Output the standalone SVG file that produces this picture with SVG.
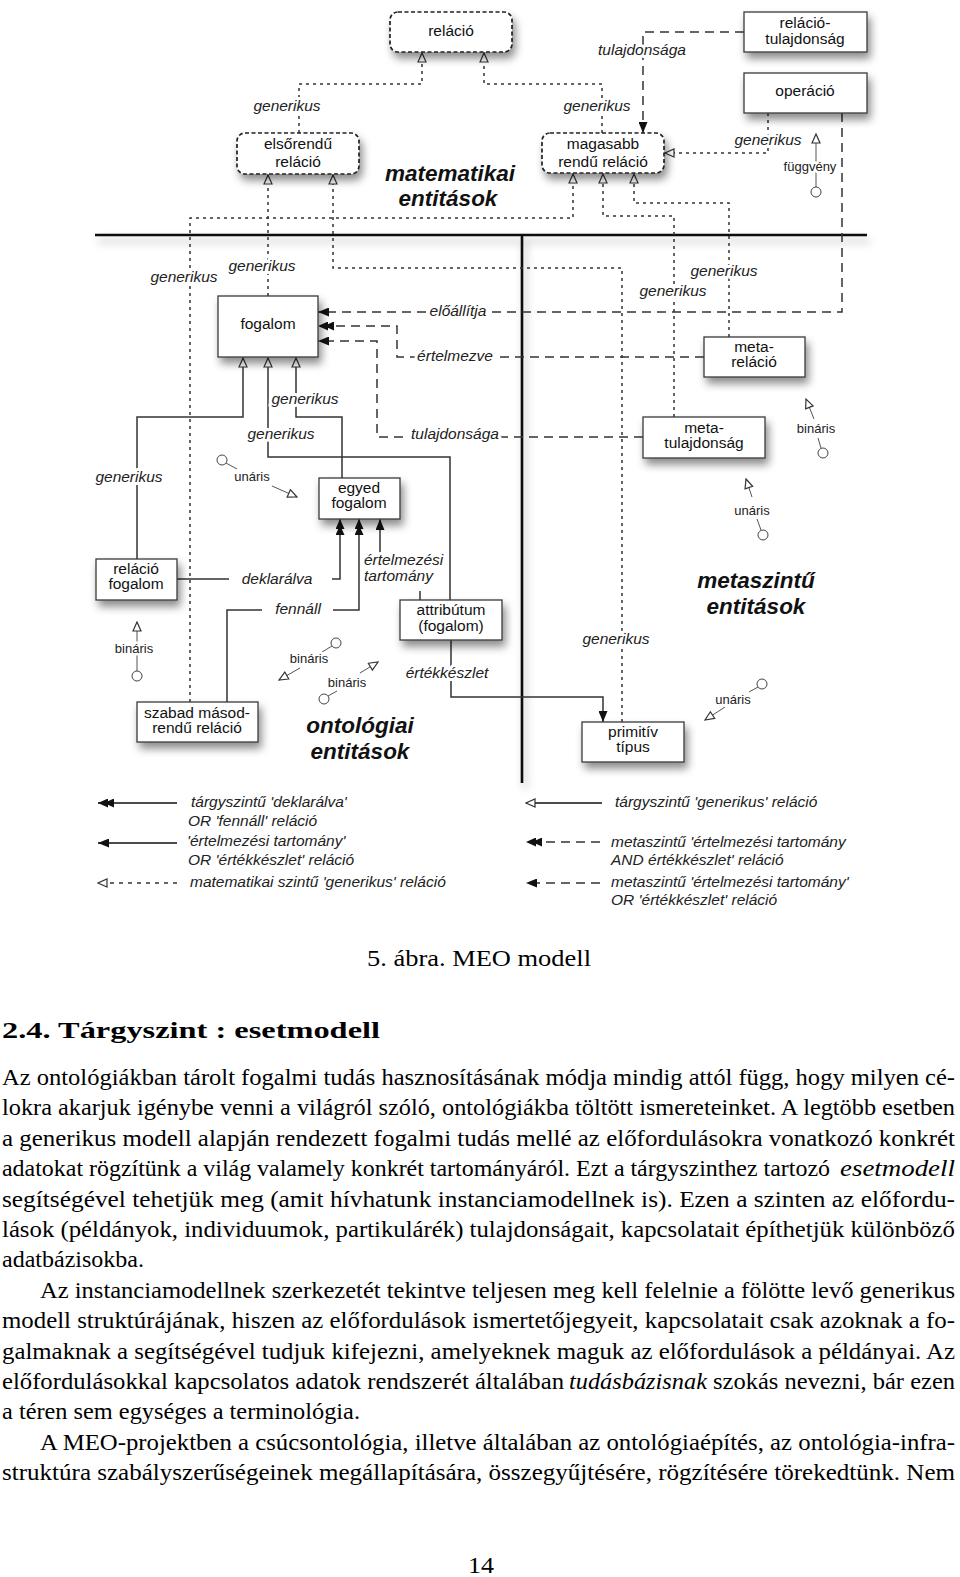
<svg xmlns="http://www.w3.org/2000/svg" width="960" height="1577" viewBox="0 0 960 1577">
<defs>
<style>
.bx{fill:#fff;stroke:#3a3a3a;stroke-width:1.3}
.db{fill:#fff;stroke:#222;stroke-width:1.7;stroke-dasharray:4,2.5}
.t{font-family:"Liberation Sans",Arial,sans-serif;font-size:15.5px;fill:#111;text-anchor:middle}
.lb{font-family:"Liberation Sans",Arial,sans-serif;font-size:15.5px;font-style:italic;fill:#222;text-anchor:middle;stroke:#fff;stroke-width:6;stroke-linejoin:round;paint-order:stroke}
.ls{text-anchor:start}
.sm{font-family:"Liberation Sans",Arial,sans-serif;font-size:13px;fill:#222;text-anchor:middle;stroke:#fff;stroke-width:5;stroke-linejoin:round;paint-order:stroke}
.big{font-family:"Liberation Sans",Arial,sans-serif;font-size:22.5px;font-weight:bold;font-style:italic;fill:#111;text-anchor:middle}
.lg{font-family:"Liberation Sans",Arial,sans-serif;font-size:15.5px;font-style:italic;fill:#222}
.dt{fill:none;stroke:#333;stroke-width:1.5;stroke-dasharray:3,4}
.ds{fill:none;stroke:#333;stroke-width:1.5;stroke-dasharray:9,6}
.so{fill:none;stroke:#333;stroke-width:1.5}
.th{fill:none;stroke:#555;stroke-width:1}
.ci{fill:#fff;stroke:#444;stroke-width:1}
.hv{fill:none;stroke:#111;stroke-width:2.6}
.bd{font-family:"Liberation Serif","Times New Roman",serif;font-size:24px;fill:#000}
.it{font-style:italic}
</style>
<filter id="sh" x="-20%" y="-20%" width="150%" height="180%"><feDropShadow dx="3" dy="6" stdDeviation="4.5" flood-color="#000" flood-opacity="0.45"/></filter>
<filter id="shl" filterUnits="userSpaceOnUse" x="0" y="200" width="960" height="620"><feDropShadow dx="3" dy="6" stdDeviation="4" flood-color="#000" flood-opacity="0.3"/></filter>
<marker id="ho" markerUnits="userSpaceOnUse" viewBox="-1 -1 11 10" markerWidth="11" markerHeight="10" refX="9" refY="4" orient="auto"><path d="M0,0 L9,4 L0,8 z" fill="#fff" stroke="#333" stroke-width="1.2"/></marker>
<marker id="fa" markerUnits="userSpaceOnUse" viewBox="0 0 11 9" markerWidth="11" markerHeight="9" refX="11" refY="4.5" orient="auto"><path d="M0,0 L11,4.5 L0,9 z" fill="#111"/></marker>
<marker id="f2" markerUnits="userSpaceOnUse" viewBox="0 0 16 9" markerWidth="16" markerHeight="9" refX="16" refY="4.5" orient="auto"><path d="M0,0 L10,4.5 L0,9 z M6,0 L16,4.5 L6,9 z" fill="#111"/></marker>
</defs>
<rect x="0" y="0" width="960" height="1577" fill="#fff"/>

<g id="frame" filter="url(#shl)">
<path class="hv" d="M95,235 H867"/>
<path class="hv" d="M522,235 V783"/>
</g>

<g id="connectors">
<path class="dt" d="M299,133 V84 H422 V53" marker-end="url(#ho)"/>
<path class="dt" d="M602,133 V84 H484 V53" marker-end="url(#ho)"/>
<path class="dt" d="M190,702 V218 H573 V174" marker-end="url(#ho)"/>
<path class="dt" d="M268,296 V175" marker-end="url(#ho)"/>
<path class="dt" d="M622,722 V268 H333 V175" marker-end="url(#ho)"/>
<path class="dt" d="M674,417 V216 H603 V174" marker-end="url(#ho)"/>
<path class="dt" d="M729,337 V203 H634 V174" marker-end="url(#ho)"/>
<path class="dt" d="M768,113 V153 H665" marker-end="url(#ho)"/>
<path class="so" d="M137,559 V417 H243 V358" marker-end="url(#ho)"/>
<path class="so" d="M450,600 V457 H268 V358" marker-end="url(#ho)"/>
<path class="so" d="M342,478 V417 H296 V358" marker-end="url(#ho)"/>
<path class="ds" d="M744,32 H643 V133" marker-end="url(#fa)"/>
<path class="ds" d="M842,113 V312 H318" marker-end="url(#fa)"/>
<path class="ds" d="M704,357 H397 V326 H318" marker-end="url(#f2)"/>
<path class="ds" d="M643,437 H377 V341 H318" marker-end="url(#fa)"/>
<path class="so" d="M177,579 H229 M332,579 H340 V519" marker-end="url(#f2)"/>
<path class="so" d="M227,702 V610 H262 M333,610 H359 V519" marker-end="url(#f2)"/>
<path class="so" d="M420,600 V591 M380,553 V519" marker-end="url(#fa)"/>
<path class="so" d="M451,640 V697 H603 V722" marker-end="url(#fa)"/>
<g id="arity">
<path class="th" d="M816,187 V134" marker-end="url(#ho)"/><circle class="ci" cx="816" cy="192" r="5"/>
<path class="th" d="M137,671 V622" marker-end="url(#ho)"/><circle class="ci" cx="137" cy="676" r="5"/>
<circle class="ci" cx="222" cy="460" r="5"/><path class="th" d="M226,463 L237,469"/><path class="th" d="M272,486 L297,497" marker-end="url(#ho)"/>
<circle class="ci" cx="336" cy="643" r="5"/><path class="th" d="M332,646 L322,652"/><path class="th" d="M300,668 L279,680" marker-end="url(#ho)"/>
<circle class="ci" cx="324" cy="699" r="5"/><path class="th" d="M328,696 L337,691"/><path class="th" d="M360,673 L378,662" marker-end="url(#ho)"/>
<path class="th" d="M814,419 L806,399" marker-end="url(#ho)"/><path class="th" d="M818,438 L821,448"/><circle class="ci" cx="823" cy="453" r="5"/>
<path class="th" d="M752,497 L746,479" marker-end="url(#ho)"/><path class="th" d="M757,519 L761,530"/><circle class="ci" cx="763" cy="535" r="5"/>
<circle class="ci" cx="762" cy="684" r="5"/><path class="th" d="M758,687 L749,692"/><path class="th" d="M725,707 L705,720" marker-end="url(#ho)"/>
</g>
<g id="labels">
<text class="lb" x="287" y="111">generikus</text>
<text class="lb" x="597" y="111">generikus</text>
<text class="lb" x="642" y="55">tulajdonsága</text>
<text class="lb" x="768" y="145">generikus</text>
<text class="lb" x="184" y="282">generikus</text>
<text class="lb" x="262" y="271">generikus</text>
<text class="lb" x="724" y="276">generikus</text>
<text class="lb" x="673" y="296">generikus</text>
<text class="lb" x="458" y="316">előállítja</text>
<text class="lb" x="455" y="361">értelmezve</text>
<text class="lb" x="455" y="439">tulajdonsága</text>
<text class="lb" x="305" y="404">generikus</text>
<text class="lb" x="281" y="439">generikus</text>
<text class="lb" x="129" y="482">generikus</text>
<text class="lb" x="277" y="584">deklarálva</text>
<text class="lb" x="298" y="614">fennáll</text>
<text class="lb ls" x="364" y="565">értelmezési</text>
<text class="lb ls" x="364" y="581">tartomány</text>
<text class="lb" x="447" y="678">értékkészlet</text>
<text class="lb" x="616" y="644">generikus</text>
<text class="sm" x="810" y="171">függvény</text>
<text class="sm" x="252" y="481">unáris</text>
<text class="sm" x="134" y="653">bináris</text>
<text class="sm" x="309" y="663">bináris</text>
<text class="sm" x="347" y="687">bináris</text>
<text class="sm" x="816" y="433">bináris</text>
<text class="sm" x="752" y="515">unáris</text>
<text class="sm" x="733" y="704">unáris</text>
</g>
</g>

<g id="n-relacio"><rect class="db" x="390" y="12" width="122" height="40" rx="8" filter="url(#sh)"/><text class="t" x="451" y="36">reláció</text></g>
<g id="n-relacio-tulajdonsag"><rect class="bx" x="744" y="12" width="123" height="40" filter="url(#sh)"/><text class="t" x="805" y="28">reláció-</text><text class="t" x="805" y="44">tulajdonság</text></g>
<g id="n-operacio"><rect class="bx" x="744" y="73" width="123" height="40" filter="url(#sh)"/><text class="t" x="805" y="96">operáció</text></g>
<g id="n-elsorendu"><rect class="db" x="237" y="133" width="122" height="41" rx="8" filter="url(#sh)"/><text class="t" x="298" y="149">elsőrendű</text><text class="t" x="298" y="167">reláció</text></g>
<g id="n-magasabb"><rect class="db" x="542" y="133" width="122" height="40" rx="8" filter="url(#sh)"/><text class="t" x="603" y="149">magasabb</text><text class="t" x="603" y="167">rendű reláció</text></g>
<g id="n-fogalom"><rect class="bx" x="218" y="296" width="100" height="61" filter="url(#sh)"/><text class="t" x="268" y="329">fogalom</text></g>
<g id="n-metarelacio"><rect class="bx" x="704" y="337" width="101" height="40" filter="url(#sh)"/><text class="t" x="754" y="352">meta-</text><text class="t" x="754" y="367">reláció</text></g>
<g id="n-metatulajdonsag"><rect class="bx" x="643" y="417" width="122" height="41" filter="url(#sh)"/><text class="t" x="704" y="433">meta-</text><text class="t" x="704" y="448">tulajdonság</text></g>
<g id="n-egyed"><rect class="bx" x="319" y="478" width="81" height="41" filter="url(#sh)"/><text class="t" x="359" y="493">egyed</text><text class="t" x="359" y="508">fogalom</text></g>
<g id="n-relaciofogalom"><rect class="bx" x="96" y="559" width="81" height="41" filter="url(#sh)"/><text class="t" x="136" y="574">reláció</text><text class="t" x="136" y="589">fogalom</text></g>
<g id="n-attributum"><rect class="bx" x="400" y="600" width="102" height="40" filter="url(#sh)"/><text class="t" x="451" y="615">attribútum</text><text class="t" x="451" y="631">(fogalom)</text></g>
<g id="n-szabad"><rect class="bx" x="137" y="702" width="121" height="40" filter="url(#sh)"/><text class="t" x="197" y="718">szabad másod-</text><text class="t" x="197" y="733">rendű reláció</text></g>
<g id="n-primitiv"><rect class="bx" x="582" y="722" width="102" height="40" filter="url(#sh)"/><text class="t" x="633" y="737">primitív</text><text class="t" x="633" y="752">típus</text></g>

<g id="regions">
<text class="big" x="450" y="181">matematikai</text>
<text class="big" x="448" y="206">entitások</text>
<text class="big" x="360" y="733">ontológiai</text>
<text class="big" x="360" y="759">entitások</text>
<text class="big" x="756" y="588">metaszintű</text>
<text class="big" x="756" y="614">entitások</text>
</g>

<g id="legend">
<path class="so" style="stroke:#111" d="M177,803 H98" marker-end="url(#f2)"/>
<path class="so" style="stroke:#111" d="M177,843 H98" marker-end="url(#fa)"/>
<path class="dt" style="stroke-dasharray:4,5" d="M177,883 H98" marker-end="url(#ho)"/>
<path class="so" style="stroke:#111" d="M602,803 H526" marker-end="url(#ho)"/>
<path class="ds" d="M600,842 H526" marker-end="url(#f2)"/>
<path class="ds" d="M600,883 H526" marker-end="url(#fa)"/>
<text class="lg" x="191" y="807">tárgyszintű 'deklarálva'</text>
<text class="lg" x="188" y="826">OR 'fennáll' reláció</text>
<text class="lg" x="187" y="846">'értelmezési tartomány'</text>
<text class="lg" x="188" y="865">OR 'értékkészlet' reláció</text>
<text class="lg" x="190" y="887">matematikai szintű 'generikus' reláció</text>
<text class="lg" x="615" y="807">tárgyszintű 'generikus' reláció</text>
<text class="lg" x="611" y="847">metaszintű 'értelmezési tartomány</text>
<text class="lg" x="611" y="865">AND értékkészlet' reláció</text>
<text class="lg" x="611" y="887">metaszintű 'értelmezési tartomány'</text>
<text class="lg" x="611" y="905">OR 'értékkészlet' reláció</text>
</g>

<g id="page-text">
<text class="bd" x="367" y="966" font-size="27" textLength="224" lengthAdjust="spacingAndGlyphs">5. ábra. MEO modell</text>
<text class="bd" x="2" y="1038" font-size="33" font-weight="bold" textLength="378" lengthAdjust="spacingAndGlyphs">2.4.  Tárgyszint : esetmodell</text>
<text class="bd" x="2" y="1085" textLength="953" lengthAdjust="spacingAndGlyphs">Az ontológiákban tárolt fogalmi tudás hasznosításának módja mindig attól függ, hogy milyen cé-</text>
<text class="bd" x="2" y="1115" textLength="953" lengthAdjust="spacingAndGlyphs">lokra akarjuk igénybe venni a világról szóló, ontológiákba töltött ismereteinket. A legtöbb esetben</text>
<text class="bd" x="2" y="1146" textLength="953" lengthAdjust="spacingAndGlyphs">a generikus modell alapján rendezett fogalmi tudás mellé az előfordulásokra vonatkozó konkrét</text>
<text class="bd" x="2" y="1176" textLength="828" lengthAdjust="spacingAndGlyphs">adatokat rögzítünk a világ valamely konkrét tartományáról. Ezt a tárgyszinthez tartozó</text>
<text class="bd it" x="840" y="1176" textLength="115" lengthAdjust="spacingAndGlyphs">esetmodell</text>
<text class="bd" x="2" y="1207" textLength="953" lengthAdjust="spacingAndGlyphs">segítségével tehetjük meg (amit hívhatunk instanciamodellnek is). Ezen a szinten az előfordu-</text>
<text class="bd" x="2" y="1237" textLength="953" lengthAdjust="spacingAndGlyphs">lások (példányok, individuumok, partikulárék) tulajdonságait, kapcsolatait építhetjük különböző</text>
<text class="bd" x="2" y="1267" textLength="142" lengthAdjust="spacingAndGlyphs">adatbázisokba.</text>
<text class="bd" x="40" y="1298" textLength="915" lengthAdjust="spacingAndGlyphs">Az instanciamodellnek szerkezetét tekintve teljesen meg kell felelnie a fölötte levő generikus</text>
<text class="bd" x="2" y="1328" textLength="953" lengthAdjust="spacingAndGlyphs">modell struktúrájának, hiszen az előfordulások ismertetőjegyeit, kapcsolatait csak azoknak a fo-</text>
<text class="bd" x="2" y="1359" textLength="953" lengthAdjust="spacingAndGlyphs">galmaknak a segítségével tudjuk kifejezni, amelyeknek maguk az előfordulások a példányai. Az</text>
<text class="bd" x="2" y="1389" textLength="562" lengthAdjust="spacingAndGlyphs">előfordulásokkal kapcsolatos adatok rendszerét általában</text>
<text class="bd it" x="569" y="1389" textLength="138" lengthAdjust="spacingAndGlyphs">tudásbázisnak</text>
<text class="bd" x="713" y="1389" textLength="242" lengthAdjust="spacingAndGlyphs">szokás nevezni, bár ezen</text>
<text class="bd" x="2" y="1419" textLength="358" lengthAdjust="spacingAndGlyphs">a téren sem egységes a terminológia.</text>
<text class="bd" x="40" y="1450" textLength="915" lengthAdjust="spacingAndGlyphs">A MEO-projektben a csúcsontológia, illetve általában az ontológiaépítés, az ontológia-infra-</text>
<text class="bd" x="2" y="1480" textLength="953" lengthAdjust="spacingAndGlyphs">struktúra szabályszerűségeinek megállapítására, összegyűjtésére, rögzítésére törekedtünk. Nem</text>
<text class="bd" x="481" y="1573" font-size="27" text-anchor="middle" textLength="26" lengthAdjust="spacingAndGlyphs">14</text>
</g>
</svg>
